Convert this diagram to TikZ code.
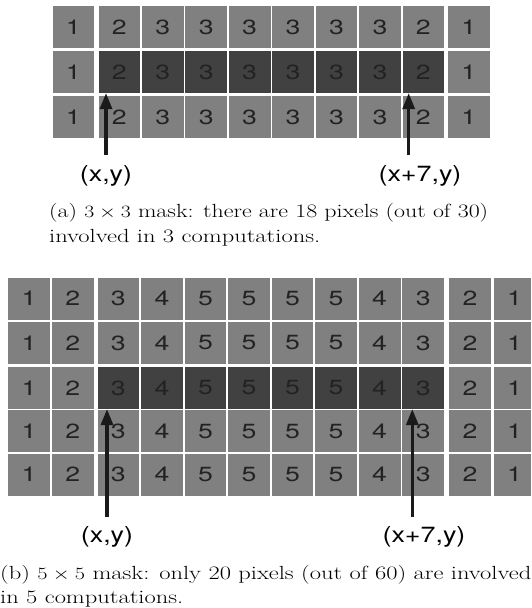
\documentclass[tikz,border=0pt]{standalone}
\usepackage{fontspec}
\usetikzlibrary{arrows.meta}
\newfontfamily\helv{TeX Gyre Heros}
\definecolor{cellgray}{HTML}{808080}
\definecolor{celldark}{HTML}{414141}
\definecolor{digitc}{HTML}{222222}
\definecolor{arrowc}{HTML}{1A1A1A}
\newcommand\dg[1]{\scalebox{1.3}[1]{#1}}
\newcommand\lb[1]{\scalebox{1.22}[1]{#1}}
\newcommand\cw[2]{\resizebox{#1}{\height}{#2}}
\begin{document}
\begin{tikzpicture}[x=1pt,y=-1pt,
  cell/.style={fill=cellgray, minimum width=41.7pt, minimum height=42pt,
    inner sep=0pt, anchor=north west, text=digitc,
    font=\helv\fontsize{20.5}{24}\selectfont},
  darkcell/.style={cell, fill=celldark},
  lab/.style={anchor=base, inner sep=0pt, text=black,
    font=\helv\fontsize{22}{26}\selectfont},
  captxt/.style={anchor=base west, inner sep=0pt, text=black,
    font=\fontsize{19}{24}\selectfont},
  arr/.style={draw=arrowc, line width=3.2pt, -{Triangle[width=12pt,length=16pt]}}]
\useasboundingbox (0,0) rectangle (532,608);

% ---------- top grid (3x3 mask) ----------
\foreach \r/\y in {1/6, 2/50.7, 3/96} {
  \foreach \c/\x/\v in {1/52.3/1, 2/98.3/2, 3/141.7/3, 4/185.2/3, 5/228.6/3,
      6/272.0/3, 7/315.5/3, 8/358.9/3, 9/402.3/2, 10/447.7/1} {
    \ifnum\r=2
      \ifnum\c>1 \ifnum\c<10
        \node[darkcell] (t-\r-\c) at (\x,\y) {\dg{\v}};
      \else
        \node[cell] (t-\r-\c) at (\x,\y) {\dg{\v}};
      \fi\else
        \node[cell] (t-\r-\c) at (\x,\y) {\dg{\v}};
      \fi
    \else
      \node[cell] (t-\r-\c) at (\x,\y) {\dg{\v}};
    \fi
  }
}
\coordinate (ta) at (106,155);
\coordinate (tb) at (408.7,155);
\draw[arr] (ta) -- (ta |- t-2-2.south);
\draw[arr] (tb) -- (tb |- t-2-9.south);
\node[lab] (tla) at (106,181.7) {\lb{(x,y)}};
\node[lab] (tlb) at (420,181.7) {\lb{(x+7,y)}};
\node[captxt] (ca1) at (49,217.5) {\cw{439pt}{(a) $3\times3$ mask: there are 18 pixels (out of 30)}};
\node[captxt] (ca2) at (49,242.5) {\cw{271pt}{involved in 3 computations.}};

% ---------- bottom grid (5x5 mask) ----------
\foreach \r/\y in {1/277.3, 2/321.7, 3/366.7, 4/410, 5/453.3} {
  \foreach \c/\x/\v in {1/8/1, 2/51.7/2, 3/97.3/3, 4/140.9/4, 5/184.4/5,
      6/228.0/5, 7/271.5/5, 8/315.1/5, 9/358.6/4, 10/402.2/3, 11/449/2} {
    \ifnum\r=3
      \ifnum\c>2 \ifnum\c<11
        \node[darkcell] (b-\r-\c) at (\x,\y) {\dg{\v}};
      \else
        \node[cell] (b-\r-\c) at (\x,\y) {\dg{\v}};
      \fi\else
        \node[cell] (b-\r-\c) at (\x,\y) {\dg{\v}};
      \fi
    \else
      \node[cell] (b-\r-\c) at (\x,\y) {\dg{\v}};
    \fi
  }
  \node[cell, minimum width=37pt] (b-\r-12) at (493.3,\y) {\hspace*{5pt}\dg{1}};
}
\coordinate (ba) at (107,517);
\coordinate (bb) at (412.3,517);
\draw[arr] (ba) -- (ba |- b-3-3.south);
\draw[arr] (bb) -- (bb |- b-3-10.south);
\node[lab] (bla) at (107,542.5) {\lb{(x,y)}};
\node[lab] (blb) at (424,542.5) {\lb{(x+7,y)}};
\node[captxt] (cb1) at (0,579) {\cw{531pt}{(b) $5\times5$ mask: only 20 pixels (out of 60) are involved}};
\node[captxt] (cb2) at (0,603.5) {\cw{183pt}{in 5 computations.}};
\end{tikzpicture}
\end{document}
